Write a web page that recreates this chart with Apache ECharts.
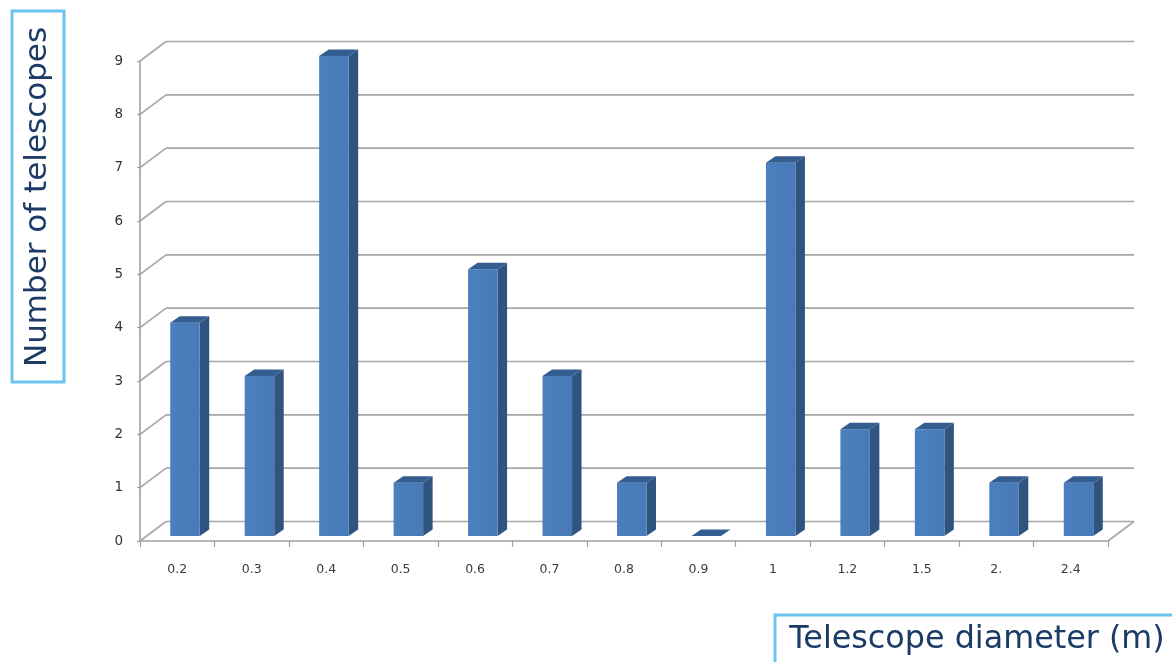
<!DOCTYPE html>
<html><head><meta charset="utf-8">
<style>html,body{margin:0;padding:0;background:#fff}#c{width:1172px;height:662px}</style>
<script src="https://cdn.jsdelivr.net/npm/echarts@6/dist/echarts.min.js"></script>
</head><body><div id="c"></div>
<script>
const categories = ['0.2','0.3','0.4','0.5','0.6','0.7','0.8','0.9','1','1.2','1.5','2.','2.4'];
const telescopes = [4,3,9,1,5,3,1,0,7,2,2,1,1];
const yTicks = [0,1,2,3,4,5,6,7,8,9];
const chart = echarts.init(document.getElementById('c'), null, {renderer:'canvas'});
const FONT = '"DejaVu Sans", Verdana, sans-serif';
const WALL_DX = 26, WALL_DY = -19.5;
const gridStyle = {stroke:'#a6a6a6', lineWidth:1.6, fill:null};
chart.setOption({
  animation:false,
  backgroundColor:'#fff',
  grid:{left:140,right:64,top:61,bottom:121,containLabel:false},
  xAxis:{type:'category',data:categories,
    axisLine:{show:true,lineStyle:{color:'#a0a0a0',width:1.6}},
    axisTick:{show:true,length:6,alignWithLabel:false,lineStyle:{color:'#a0a0a0',width:1.2}},
    axisLabel:{color:'#3a3a3a',fontFamily:FONT,fontSize:12.5,margin:22,interval:0}},
  yAxis:{type:'value',min:0,max:9,interval:1,
    axisLine:{show:true,lineStyle:{color:'#a0a0a0',width:1.6}},
    axisTick:{show:true,length:3,lineStyle:{color:'#a0a0a0',width:1.2}},
    splitLine:{show:false},
    axisLabel:{color:'#333',fontFamily:FONT,fontSize:13.5,margin:17,padding:[5,0,0,0],formatter:v=>String(v)}},
  series:[
    {type:'custom',name:'walls',coordinateSystem:'cartesian2d',clip:false,silent:true,z:1,
     data:yTicks.map(v=>[0,v]),encode:{x:0,y:1},
     renderItem(params,api){
       const v=api.value(1), half=api.size([1,0])[0]/2;
       const a=api.coord([0,v]), b=api.coord([categories.length-1,v]);
       const x0=a[0]-half, x1=b[0]+half, y=a[1];
       const children=[
         {type:'line',shape:{x1:x0,y1:y,x2:x0+WALL_DX,y2:y+WALL_DY},style:gridStyle},
         {type:'line',shape:{x1:x0+WALL_DX,y1:y+WALL_DY,x2:x1+WALL_DX,y2:y+WALL_DY},style:gridStyle}
       ];
       if(v===0) children.push({type:'line',shape:{x1:x1,y1:y,x2:x1+WALL_DX,y2:y+WALL_DY},style:gridStyle});
       return {type:'group',children};
     }},
    {type:'custom',name:'Number of telescopes',coordinateSystem:'cartesian2d',clip:false,z:3,
     data:telescopes.map((v,i)=>[i,v]),encode:{x:0,y:1},
     renderItem(params,api){
       const i=api.value(0), v=api.value(1);
       const t=api.coord([i,v]), b=api.coord([i,0]);
       const l=t[0]-7, r=t[0]+22.5, top=t[1]-5, bot=b[1]-5;
       const dx=9.5, dy=-6.5;
       const children=[];
       if(v>0){
         children.push({type:'polygon',shape:{points:[[r,top],[r+dx,top+dy],[r+dx,bot+dy],[r,bot]]},style:{fill:'#2f5480'}});
         children.push({type:'rect',shape:{x:l,y:top,width:r-l,height:bot-top},
           style:{fill:new echarts.graphic.LinearGradient(0,0,1,0,[{offset:0,color:'#4b7fbe'},{offset:1,color:'#477ab6'}])}});
       }
       children.push({type:'polygon',shape:{points:[[l,top],[l+dx,top+dy],[r+dx,top+dy],[r,top]]},style:{fill:'#345e90'}});
       return {type:'group',children};
     }}
  ],
  graphic:[
    {type:'rect',z:10,shape:{x:12,y:11,width:52,height:371},style:{fill:'#fff',stroke:'#6cc3ef',lineWidth:3}},
    {type:'text',z:11,x:38,y:197,rotation:Math.PI/2,
     style:{text:'Number of telescopes',fill:'#1b3a66',font:'31px "DejaVu Sans", Verdana, sans-serif',align:'center',verticalAlign:'middle'}},
    {type:'rect',z:10,shape:{x:775,y:615,width:400,height:60},style:{fill:'#fff',stroke:'#6cc3ef',lineWidth:3}},
    {type:'text',z:11,x:977,y:640,
     style:{text:'Telescope diameter (m)',fill:'#1b3a66',font:'31.8px "DejaVu Sans", Verdana, sans-serif',align:'center',verticalAlign:'middle'}}
  ]
});
</script></body></html>
